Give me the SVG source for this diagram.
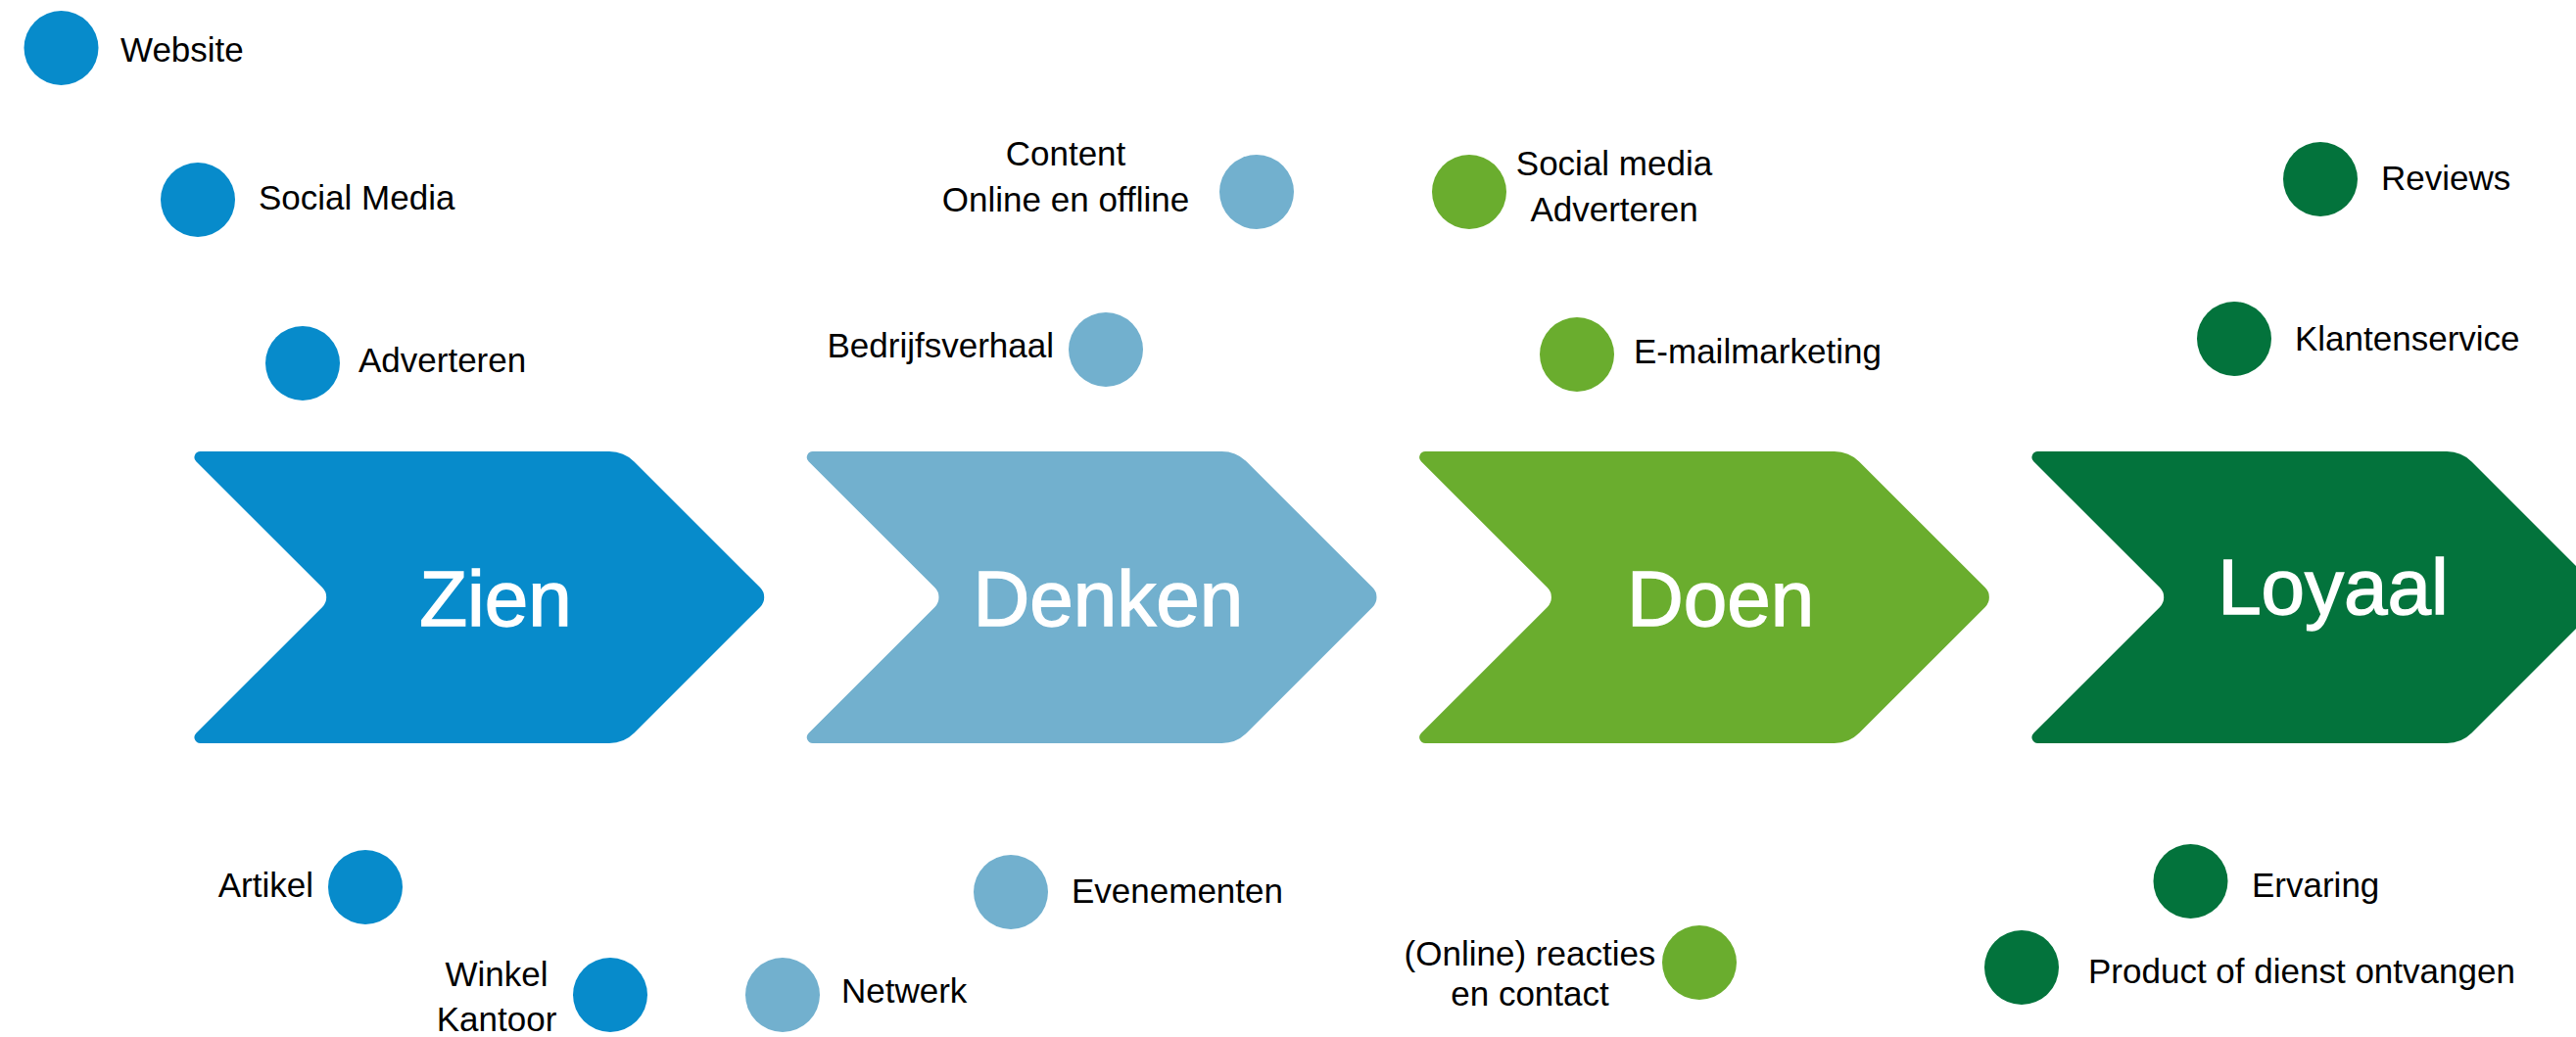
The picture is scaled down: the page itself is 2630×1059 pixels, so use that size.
<svg xmlns="http://www.w3.org/2000/svg" xmlns:xlink="http://www.w3.org/1999/xlink" width="2630" height="1059" viewBox="0 0 2630 1059">
  <defs>
    <!-- rounded chevron, local origin at its top-left point -->
    <path id="chev" d="M14.5,0 H432.1 A36,36 0 0 1 457.5,10.5 L586.1,139.1 A14,14 0 0 1 586.1,158.9 L457.5,287.5 A36,36 0 0 1 432.1,298 H14.5 A6,6 0 0 1 10.25,287.75 L139.1,158.9 A14,14 0 0 0 139.1,139.1 L10.25,10.25 A6,6 0 0 1 14.5,0 Z"/>
  </defs>
  <style>
    .lbl { font-family: "Liberation Sans", Arial, sans-serif; font-size: 35px; fill: #000; }
    .mid { text-anchor: middle; }
    .end { text-anchor: end; }
    .stage { font-family: "Liberation Sans", Arial, sans-serif; font-size: 80px; fill: #fff; stroke: #fff; stroke-width: 1.4; text-anchor: middle; }
    .c-zien { fill: #078BCB; }
    .c-denken { fill: #72B0CE; }
    .c-doen { fill: #6AAD2E; }
    .c-loyaal { fill: #03733C; }
  </style>
  <rect width="2630" height="1059" fill="#fff"/>

  <!-- stage chevrons -->
  <g id="stage-zien">
    <use xlink:href="#chev" href="#chev" x="190" y="461" class="c-zien"/>
    <text class="stage" x="506" y="639">Zien</text>
  </g>
  <g id="stage-denken">
    <use xlink:href="#chev" href="#chev" x="815.3" y="461" class="c-denken"/>
    <text class="stage" x="1131.3" y="639">Denken</text>
  </g>
  <g id="stage-doen">
    <use xlink:href="#chev" href="#chev" x="1440.7" y="461" class="c-doen"/>
    <text class="stage" x="1756.7" y="639">Doen</text>
  </g>
  <g id="stage-loyaal">
    <use xlink:href="#chev" href="#chev" x="2066" y="461" class="c-loyaal"/>
    <text class="stage" x="2382" y="627">Loyaal</text>
  </g>

  <!-- Zien touchpoints -->
  <g id="tp-website">
    <circle cx="62.5" cy="49" r="38" class="c-zien"/>
    <text class="lbl" x="123" y="63">Website</text>
  </g>
  <g id="tp-social-media">
    <circle cx="202" cy="204" r="38" class="c-zien"/>
    <text class="lbl" x="264" y="214">Social Media</text>
  </g>
  <g id="tp-adverteren">
    <circle cx="309" cy="371" r="38" class="c-zien"/>
    <text class="lbl" x="366" y="380">Adverteren</text>
  </g>
  <g id="tp-artikel">
    <circle cx="373" cy="906" r="38" class="c-zien"/>
    <text class="lbl end" x="320" y="916">Artikel</text>
  </g>
  <g id="tp-winkel">
    <circle cx="623" cy="1016" r="38" class="c-zien"/>
    <text class="lbl mid" x="507" y="1007">Winkel</text>
    <text class="lbl mid" x="507" y="1053">Kantoor</text>
  </g>

  <!-- Denken touchpoints -->
  <g id="tp-content">
    <circle cx="1283" cy="196" r="38" class="c-denken"/>
    <text class="lbl mid" x="1088" y="169">Content</text>
    <text class="lbl mid" x="1088" y="216">Online en offline</text>
  </g>
  <g id="tp-bedrijfsverhaal">
    <circle cx="1129" cy="357" r="38" class="c-denken"/>
    <text class="lbl end" x="1076" y="365">Bedrijfsverhaal</text>
  </g>
  <g id="tp-evenementen">
    <circle cx="1032" cy="911" r="38" class="c-denken"/>
    <text class="lbl" x="1094" y="922">Evenementen</text>
  </g>
  <g id="tp-netwerk">
    <circle cx="799" cy="1016" r="38" class="c-denken"/>
    <text class="lbl" x="859" y="1024">Netwerk</text>
  </g>

  <!-- Doen touchpoints -->
  <g id="tp-social-advert">
    <circle cx="1500" cy="196" r="38" class="c-doen"/>
    <text class="lbl mid" x="1648" y="179">Social media</text>
    <text class="lbl mid" x="1648" y="226">Adverteren</text>
  </g>
  <g id="tp-emailmarketing">
    <circle cx="1610" cy="362" r="38" class="c-doen"/>
    <text class="lbl" x="1668" y="371">E-mailmarketing</text>
  </g>
  <g id="tp-reacties">
    <circle cx="1735" cy="983" r="38" class="c-doen"/>
    <text class="lbl mid" x="1562" y="986">(Online) reacties</text>
    <text class="lbl mid" x="1562" y="1027">en contact</text>
  </g>

  <!-- Loyaal touchpoints -->
  <g id="tp-reviews">
    <circle cx="2369" cy="183" r="38" class="c-loyaal"/>
    <text class="lbl" x="2431" y="194">Reviews</text>
  </g>
  <g id="tp-klantenservice">
    <circle cx="2281" cy="346" r="38" class="c-loyaal"/>
    <text class="lbl" x="2343" y="358">Klantenservice</text>
  </g>
  <g id="tp-ervaring">
    <circle cx="2236.5" cy="900" r="38" class="c-loyaal"/>
    <text class="lbl" x="2299" y="916">Ervaring</text>
  </g>
  <g id="tp-product">
    <circle cx="2064" cy="988" r="38" class="c-loyaal"/>
    <text class="lbl" x="2132" y="1004">Product of dienst ontvangen</text>
  </g>

  <g id="connectors"/>
</svg>
